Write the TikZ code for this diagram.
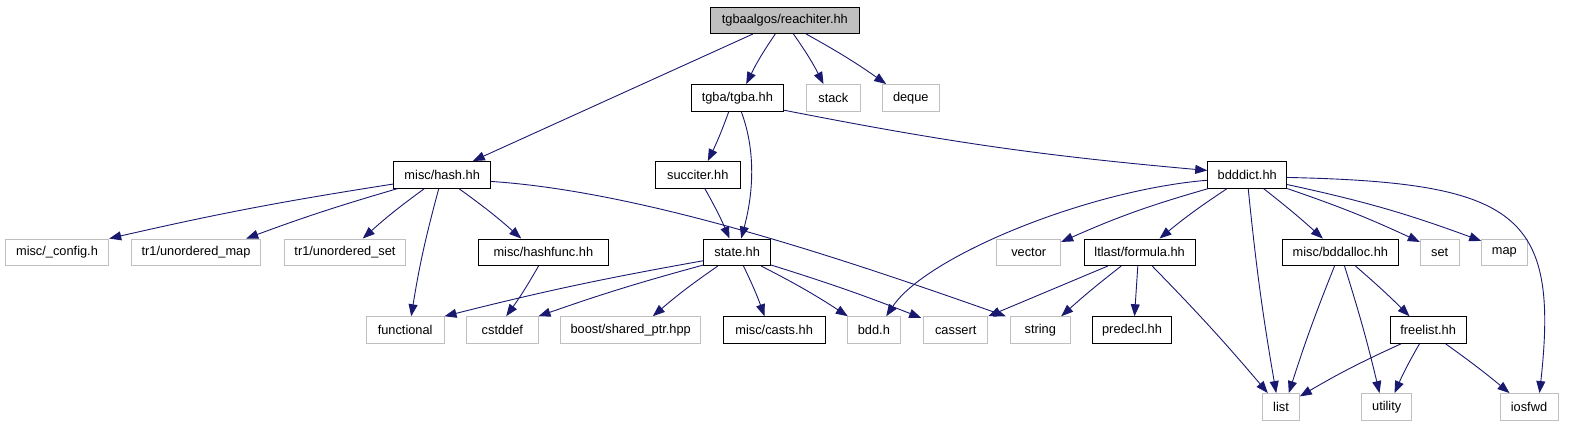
\documentclass[tikz,border=0pt]{standalone}
\usepackage{fontspec}
\setmainfont{Liberation Sans}
\usetikzlibrary{arrows.meta}
\definecolor{edgecol}{HTML}{191970}
\definecolor{greyb}{HTML}{BFBFBF}
\begin{document}
\begin{tikzpicture}[x=1pt,y=-1pt,
  box/.style={draw=black, line width=1pt, minimum height=26.5pt, inner sep=0pt, text=black, font=\fontsize{12.8}{14}\selectfont},
  gbox/.style={box, draw=greyb},
  rootbox/.style={box, fill=greyb},
  edge/.style={draw=edgecol, line width=0.9pt, -{Triangle[length=12pt,width=9pt,fill=edgecol]}}]
\useasboundingbox (0,0) rectangle (1579,427);
% row 0
\node[rootbox, minimum width=148.3] (reach) at (784.85,20.3) {tgbaalgos/reachiter.hh};
% row 1
\node[box, minimum width=92.7] (tgba) at (737.35,97.8) {tgba/tgba.hh};
\node[gbox, minimum width=54.7] (stack) at (833.35,97.8) {stack};
\node[gbox, minimum width=57] (deque) at (910.8,97.8) {deque};
% row 2
\node[box, minimum width=97] (hash) at (442.2,174.8) {misc/hash.hh};
\node[box, minimum width=85] (succiter) at (697.8,174.8) {succiter.hh};
\node[box, minimum width=79] (bdddict) at (1247.2,174.8) {bdddict.hh};
% row 3
\node[gbox, minimum width=103.4] (config) at (57,252.3) {misc/\_config.h};
\node[gbox, minimum width=129.4] (umap) at (196,252.3) {tr1/unordered\_map};
\node[gbox, minimum width=121.4] (uset) at (345,252.3) {tr1/unordered\_set};
\node[box, minimum width=129.3] (hashfunc) at (543.35,252.3) {misc/hashfunc.hh};
\node[box, minimum width=67] (state) at (737.2,252.3) {state.hh};
\node[gbox, minimum width=64] (vector) at (1028.7,252.3) {vector};
\node[box, minimum width=111.3] (formula) at (1139.65,252.3) {ltlast/formula.hh};
\node[box, minimum width=115.3] (bddalloc) at (1340.35,252.3) {misc/bddalloc.hh};
\node[gbox, minimum width=38.7] (set) at (1439.65,252.3) {set};
\node[gbox, minimum width=45.3] (map) at (1504.35,252.3) {map};
% row 4
\node[gbox, minimum width=77.7] (functional) at (405.15,330) {functional};
\node[gbox, minimum width=71.3] (cstddef) at (502.35,330) {cstddef};
\node[gbox, minimum width=140] (boost) at (630.7,330) {boost/shared\_ptr.hpp};
\node[box, minimum width=101.7] (casts) at (774.15,330) {misc/casts.hh};
\node[gbox, minimum width=52.3] (bddh) at (873.85,330) {bdd.h};
\node[gbox, minimum width=64] (cassert) at (955.7,330) {cassert};
\node[gbox, minimum width=60] (string) at (1040.3,330) {string};
\node[box, minimum width=78.6] (predecl) at (1132,330) {predecl.hh};
\node[box, minimum width=75.7] (freelist) at (1428.15,330) {freelist.hh};
% row 5
\node[gbox, minimum width=36.6] (list) at (1281,406.8) {list};
\node[gbox, minimum width=50] (utility) at (1386.7,406.8) {utility};
\node[gbox, minimum width=58] (iosfwd) at (1529,406.8) {iosfwd};

% edges from reach
\draw[edge] ([xshift=42.6]reach.south west) -- ([xshift=79.6]hash.north west);
\draw[edge] ([xshift=65]reach.south west) to[bend right=4] ([xshift=55.7]tgba.north west);
\draw[edge] ([xshift=83.3]reach.south west) to[bend left=4] ([xshift=18]stack.north west);
\draw[edge] ([xshift=96]reach.south west) to[bend left=3] ([xshift=4.4]deque.north west);
% tgba
\draw[edge] ([xshift=38.3]tgba.south west) to[bend left=3] ([xshift=53]succiter.north west);
\draw[edge] ([xshift=50.7]tgba.south west) .. controls +(15,40) and +(12,-45) .. ([xshift=38]state.north west);
\draw[edge] ([yshift=1.3]tgba.south east) to[bend right=3] ([yshift=-9.4]bdddict.north west);
% hash
\draw[edge] ([yshift=-23]hash.north west) to[bend right=2] (config.north east);
\draw[edge] ([xshift=4.6]hash.south west) to[bend right=2] ([xshift=115.4]umap.north west);
\draw[edge] ([xshift=31.3]hash.south west) to[bend right=3] ([xshift=79]uset.north west);
\draw[edge] ([xshift=45.6]hash.south west) to[bend right=3] ([xshift=45.4]functional.north west);
\draw[edge] ([xshift=65.6]hash.south west) to[bend left=3] ([xshift=43]hashfunc.north west);
\draw[edge] ([yshift=-20.4]hash.north east) .. controls +(150,10) and +(-170,-60) .. ([xshift=-4]string.north west);
\draw[edge] ([xshift=60.3]hashfunc.south west) to[bend left=3] ([xshift=40]cstddef.north west);
% succiter
\draw[edge] ([xshift=50]succiter.south west) to[bend left=3] ([xshift=26.3]state.north west);
% state
\draw[edge] ([yshift=5.3]state.south west) to[bend right=2] (functional.north east);
\draw[edge] ([yshift=1]state.south west) to[bend right=2] (cstddef.north east);
\draw[edge] ([xshift=14.6]state.south west) to[bend right=3] ([xshift=92.6]boost.north west);
\draw[edge] ([xshift=40.3]state.south west) to[bend left=3] ([xshift=41.7]casts.north west);
\draw[edge] ([xshift=58]state.south west) to[bend left=3] ([xshift=0.6]bddh.north west);
\draw[edge] ([yshift=1]state.south east) to[bend left=2] ([xshift=-2,yshift=-1.6]cassert.north west);
% bdddict
\draw[edge] ([yshift=8.3]bdddict.south west) .. controls +(-120,10) and +(40,-60) .. ([xshift=39]bddh.north west);
\draw[edge] ([xshift=1.3]bdddict.south west) to[bend right=4] ([yshift=-3.4]vector.north east);
\draw[edge] ([xshift=20]bdddict.south west) to[bend right=3] ([xshift=76]formula.north west);
\draw[edge] ([xshift=41]bdddict.south west) to[bend right=2] ([xshift=14]list.north west);
\draw[edge] ([xshift=56.3]bdddict.south west) to[bend left=2] ([xshift=40.6]bddalloc.north west);
\draw[edge] (bdddict.south east) to[bend left=3] ([yshift=-3.4]set.north west);
\draw[edge] ([yshift=4]bdddict.south east) to[bend left=4] ([yshift=-2.4]map.north west);
\draw[edge] ([yshift=-16.4]bdddict.north east) .. controls +(230,5) and +(20,-180) .. ([xshift=40]iosfwd.north west);
% formula
\draw[edge] ([xshift=24.3]formula.south west) -- (cassert.north east);
\draw[edge] ([xshift=37.7]formula.south west) to[bend right=2] ([xshift=51.4]string.north west);
\draw[edge] ([xshift=54.3]formula.south west) -- ([xshift=42.3]predecl.north west);
\draw[edge] ([xshift=68.7]formula.south west) to[bend left=2] ([xshift=5.6]list.north west);
% bddalloc
\draw[edge] ([xshift=52.3]bddalloc.south west) to[bend right=2] ([xshift=-11]list.north east);
\draw[edge] ([xshift=62.3]bddalloc.south west) to[bend left=2] ([xshift=18.3]utility.north west);
\draw[edge] ([xshift=73.3]bddalloc.south west) to[bend left=2] ([xshift=19.7]freelist.north west);
% freelist
\draw[edge] ([xshift=11.4]freelist.south west) to[bend right=3] ([yshift=-3.4]list.north east);
\draw[edge] ([xshift=29.7]freelist.south west) to[bend right=3] ([xshift=33.3]utility.north west);
\draw[edge] ([xshift=55.7]freelist.south west) to[bend left=2] ([xshift=10]iosfwd.north west);
\end{tikzpicture}
\end{document}
